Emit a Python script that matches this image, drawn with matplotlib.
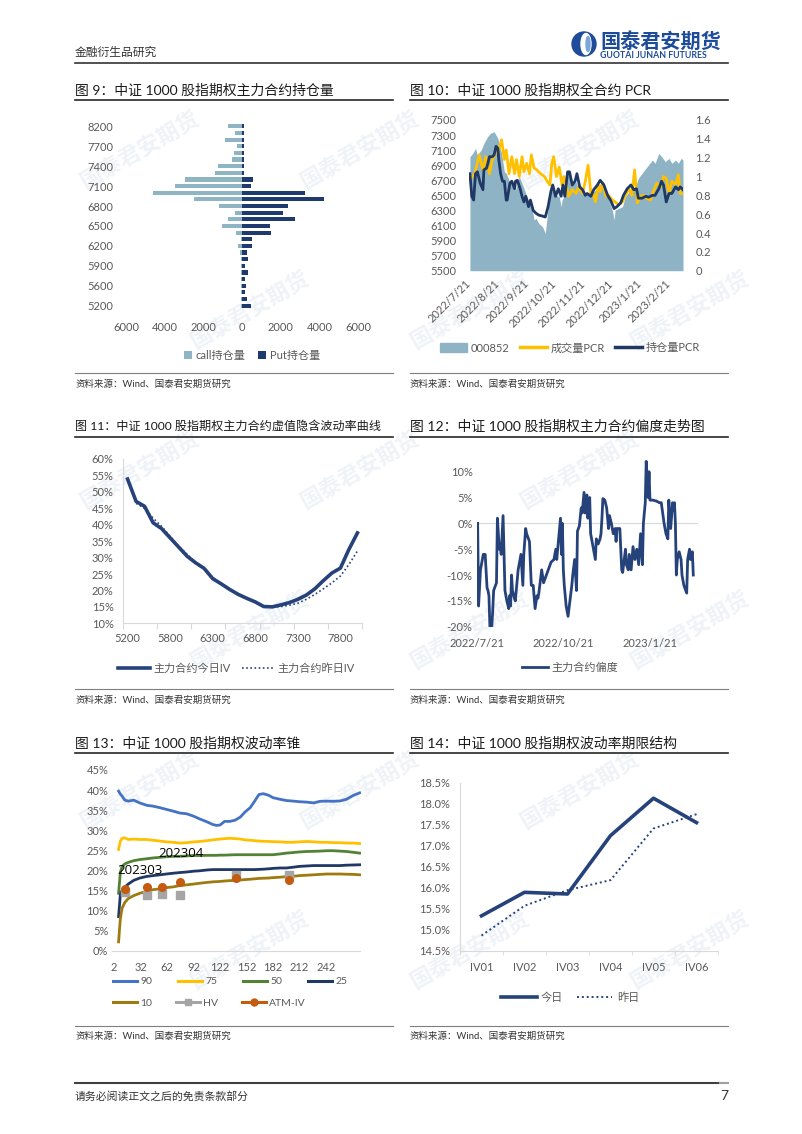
import numpy as np
import pandas as pd
import matplotlib
matplotlib.use("Agg")
import matplotlib.pyplot as plt
from matplotlib.patches import Circle, Ellipse, Patch
from matplotlib.lines import Line2D

plt.rcParams["font.family"] = ["Lato", "Noto Sans CJK SC", "DejaVu Sans"]

W, H = 802, 1134

# ---------------- data ----------------
# fig 9: open interest by strike (bottom -> top)
strikes = [5200, 5400, 5500, 5600, 5700, 5800, 5900, 6000, 6100, 6200,
           6300, 6400, 6500, 6600, 6700, 6800, 6900, 7000, 7100, 7200,
           7300, 7400, 7500, 7600, 7700, 7800, 8000, 8200]
call_oi = [70, 50, 50, 50, 50, 70, 70, 70, 100, 230,
           70, 300, 1010, 710, 380, 1200, 2470, 4590, 3480, 2960,
           1390, 1220, 540, 400, 260, 870, 350, 750]
put_oi = [470, 280, 140, 190, 170, 300, 170, 330, 260, 520,
          520, 1510, 1430, 2730, 2120, 2370, 4260, 3270, 490, 570,
          100, 100, 100, 100, 100, 100, 100, 100]

# fig 10: index level and PCRs (days after 2022-07-22)
index_days = [0, 3, 6, 8, 12, 15, 19, 22, 26, 28,
              30, 32, 34, 37, 39, 42, 46, 49, 53, 56,
              60, 64, 67, 69, 71, 74, 78, 81, 83, 86,
              89, 92, 96, 98, 99, 101, 104, 106, 110, 114,
              117, 121, 124, 128, 131, 135, 139, 142, 146, 149,
              153, 155, 156, 160, 164, 167, 171, 174, 178, 181,
              185, 189, 192, 196, 199, 203, 206, 210, 214, 217,
              221, 224, 227, 229]
index_vals = [7013, 7057, 7124, 7035, 7100, 7190, 7279, 7323, 7345, 7300,
              7257, 7146, 7057, 6814, 6792, 6703, 6615, 6570, 6748, 6660,
              6527, 6394, 6305, 6173, 6195, 6128, 6084, 5996, 6217, 6527,
              6570, 6504, 6482, 6350, 6438, 6482, 6748, 6770, 6637, 6681,
              6570, 6527, 6527, 6504, 6527, 6570, 6637, 6681, 6570, 6438,
              6305, 6173, 6305, 6327, 6350, 6482, 6548, 6593, 6615, 6726,
              6792, 6858, 6903, 6969, 6925, 7057, 7013, 6947, 6991, 6925,
              6969, 6925, 6991, 6969]
pcr_vol_days = [0, 5, 10, 14, 17, 21, 24, 28, 31, 34,
                37, 39, 42, 45, 48, 50, 53, 56, 58, 61,
                64, 66, 69, 72, 76, 80, 83, 86, 88, 90,
                93, 96, 99, 101, 104, 106, 110, 114, 117, 121,
                124, 127, 130, 132, 135, 138, 140, 143, 146, 149,
                153, 156, 160, 164, 167, 171, 174, 177, 180, 183,
                187, 190, 194, 197, 201, 205, 208, 211, 214, 217,
                221, 224, 226, 229]
pcr_vol = [0.98, 1.02, 1.23, 1.07, 1.21, 1.03, 1.18, 1.25, 1.28, 1.39,
           1.18, 1.28, 1.03, 1.21, 1.03, 1.18, 1.00, 1.21, 1.05, 1.14,
           1.03, 1.23, 1.09, 1.07, 1.03, 1.00, 0.95, 0.91, 1.14, 1.21,
           1.00, 1.10, 0.91, 1.00, 0.89, 0.79, 0.86, 0.82, 0.89, 0.82,
           0.95, 1.12, 0.82, 0.84, 0.73, 0.91, 0.84, 0.93, 0.79, 0.80,
           0.75, 0.73, 0.70, 0.73, 0.80, 0.87, 0.80, 1.07, 0.72, 0.79,
           0.80, 0.77, 0.75, 0.84, 0.93, 0.89, 1.00, 0.98, 0.82, 0.95,
           0.91, 1.02, 0.82, 0.82]
pcr_oi_days = [0, 2, 4, 6, 8, 11, 14, 15, 18, 21,
               24, 26, 28, 30, 31, 33, 35, 37, 39, 40,
               43, 45, 48, 49, 51, 54, 56, 58, 60, 63,
               65, 68, 71, 74, 78, 81, 84, 87, 89, 92,
               95, 98, 100, 102, 105, 107, 110, 113, 115, 118,
               121, 124, 126, 130, 133, 137, 140, 144, 148, 151,
               155, 158, 162, 165, 169, 173, 176, 179, 181, 185,
               189, 192, 196, 199, 203, 206, 208, 211, 214, 217,
               221, 224, 226, 229]
pcr_oi = [1.03, 0.79, 0.75, 1.03, 1.05, 0.93, 0.86, 1.07, 1.09, 1.21,
          1.21, 1.23, 1.32, 1.30, 1.18, 1.03, 0.95, 0.95, 0.75, 0.75,
          0.93, 0.95, 0.87, 0.95, 0.96, 0.87, 0.79, 0.73, 0.79, 0.68,
          0.75, 0.64, 0.61, 0.59, 0.58, 0.57, 0.68, 0.84, 0.91, 0.79,
          0.87, 0.79, 0.91, 0.79, 1.05, 1.05, 0.91, 0.95, 1.03, 0.89,
          0.86, 0.80, 0.82, 0.79, 0.86, 0.91, 0.96, 0.91, 0.80, 0.75,
          0.66, 0.68, 0.72, 0.80, 0.87, 0.91, 0.86, 0.87, 0.77, 0.77,
          0.79, 0.78, 0.80, 0.80, 0.87, 0.95, 0.91, 0.73, 0.82, 0.82,
          0.89, 0.86, 0.89, 0.86]
pcr_tick_dates = ["2022-07-21", "2022-08-21", "2022-09-21", "2022-10-21",
                  "2022-11-21", "2022-12-21", "2023-01-21", "2023-02-21"]
pcr_tick_labels = ["2022/7/21", "2022/8/21", "2022/9/21", "2022/10/21",
                   "2022/11/21", "2022/12/21", "2023/1/21", "2023/2/21"]

# fig 11: smile (same strike list as fig 9), %
iv_today = [53.9, 47.1, 45.6, 40.6, 38.8, 36.0, 33.2, 30.4, 28.4, 26.7,
            23.6, 22.0, 20.3, 18.8, 17.6, 16.5, 15.1, 15.0, 15.6, 16.3,
            17.3, 18.6, 20.5, 23.0, 25.3, 26.8, 32.5, 37.5]
iv_yesterday = [np.nan, 46.5, 45.0, 42.0, 39.5, 36.5, 33.5, 31.0, 28.5, 26.5,
                24.0, 22.0, 20.3, 18.8, 17.6, 16.4, 15.1, 14.9, 15.1, 15.5,
                16.1, 17.3, 18.8, 20.5, 22.3, 24.4, 27.9, 32.0]

# fig 12: skew, %
skew_days = [0, 1, 3, 5, 6, 8, 10, 11, 12, 13,
             15, 16, 17, 18, 19, 20, 21, 23, 24, 25,
             27, 29, 31, 33, 34, 35, 36, 37, 39, 40,
             41, 43, 45, 46, 48, 49, 51, 52, 54, 55,
             57, 59, 61, 63, 64, 65, 68, 70, 71, 75,
             78, 81, 83, 84, 86, 88, 89, 90, 91, 92,
             93, 94, 96, 98, 100, 101, 103, 105, 106, 108,
             110, 111, 113, 114, 116, 117, 119, 120, 122, 123,
             125, 126, 128, 130, 131, 132, 133, 135, 137, 139,
             140, 142, 144, 146, 147, 148, 151, 153, 154, 157,
             158, 160, 161, 163, 165, 167, 169, 171, 173, 175,
             176, 178, 179, 181, 182, 183, 186, 190, 193, 195,
             198, 200, 202, 203, 205, 207, 208, 209, 210, 211,
             212, 214, 216, 217, 219, 222, 223, 225, 226, 228,
             229]
skew_vals = [0, -16, -9, -7, -6, -6, -12.5, -13, -14, -20,
             -20, -17, -13, -12.5, -12, -11.5, 1, -5, -4, -6,
             1.5, -13, -15, -16.5, -14, -16, -10, -13, -14.5, -15,
             -13, -9, -7, -6, -12, -6, -1, -2, -3, -3.5,
             -12, -12, -16.5, -14, -14.5, -13.5, -9, -11.5, -11, -9,
             -7.5, -7, -5, -7, -3, 1, -6, 0, -9, -12,
             -14, -16, -18, -15, -12, -10, -7, -13, -1.5, -0.5,
             3, 2, 6, 2, 5.5, 1, 5, -2, -4, -5,
             -7, -3, -4, -3, -2, 1, 4.8, 4.5, 3, -1,
             1.5, 0, -2, -1, -3.5, -1, -1, -9, -9.5, -5,
             -8, -9, -6, -9, -4.5, -7, -5, -8, -2, -8,
             0, 4, 12, 5, 10, 4.5, 4.5, 4.3, 4, 4,
             0, -2, -3, 4.5, -1, 4, 2.5, 4, 0, -10,
             -7, -5.5, -7, -10, -12, -13.5, -7, -5, -7, -5.5,
             -10]
skew_tick_dates = ["2022-07-21", "2022-10-21", "2023-01-21"]
skew_tick_labels = ["2022/7/21", "2022/10/21", "2023/1/21"]

# fig 13: volatility cone, %
cone_days = [7, 9, 11, 14, 18, 24, 31, 39, 46, 54,
             61, 69, 76, 84, 92, 99, 107, 114, 118, 122,
             127, 133, 139, 145, 150, 156, 161, 166, 171, 177,
             182, 190, 197, 205, 212, 220, 228, 235, 243, 250,
             258, 265, 273, 280]
cone_90 = [39.75, 39.0, 38.5, 37.5, 37.25, 37.5, 36.8, 36.2, 36.0, 35.6,
           35.2, 34.75, 34.3, 34.1, 33.5, 32.8, 32.1, 31.4, 31.2, 31.3,
           32.2, 32.2, 32.5, 33.3, 34.5, 35.6, 37.2, 38.9, 39.1, 38.7,
           38.1, 37.7, 37.4, 37.25, 37.1, 37.0, 36.8, 37.2, 37.25, 37.2,
           37.3, 37.7, 38.7, 39.3]
cone_75 = [25.2, 27.3, 28.0, 28.1, 27.7, 27.8, 27.7, 27.7, 27.5, 27.3,
           27.1, 27.0, 26.8, 26.9, 27.1, 27.2, 27.4, 27.6, 27.7, 27.8,
           27.9, 28.0, 27.9, 27.8, 27.6, 27.5, 27.4, 27.3, 27.25, 27.2,
           27.15, 27.1, 27.0, 27.0, 27.1, 27.2, 27.1, 27.0, 27.0, 26.9,
           26.9, 26.8, 26.8, 26.7]
cone_50 = [14.3, 19.5, 21.0, 21.6, 22.0, 22.4, 22.7, 22.9, 23.1, 23.25,
           23.4, 23.5, 23.5, 23.6, 23.7, 23.7, 23.75, 23.75, 23.75, 23.8,
           23.8, 23.85, 23.9, 23.9, 23.9, 23.9, 23.9, 23.9, 23.9, 23.9,
           23.9, 24.1, 24.3, 24.45, 24.6, 24.7, 24.75, 24.8, 24.9, 24.9,
           24.8, 24.7, 24.5, 24.3]
cone_25 = [8.5, 14.0, 15.0, 15.8, 16.6, 17.5, 18.1, 18.5, 18.7, 18.9,
           19.1, 19.3, 19.45, 19.6, 19.8, 19.9, 20.1, 20.2, 20.2, 20.2,
           20.2, 20.2, 20.2, 20.2, 20.2, 20.2, 20.2, 20.25, 20.3, 20.4,
           20.5, 20.6, 20.6, 20.8, 21.0, 21.1, 21.2, 21.2, 21.2, 21.2,
           21.2, 21.3, 21.35, 21.4]
cone_10 = [2.2, 8.0, 10.6, 12.0, 13.0, 13.7, 14.3, 14.8, 15.2, 15.4,
           15.7, 15.9, 16.2, 16.4, 16.6, 16.8, 17.0, 17.15, 17.2, 17.25,
           17.35, 17.45, 17.5, 17.6, 17.7, 17.8, 17.9, 18.0, 18.05, 18.1,
           18.2, 18.3, 18.45, 18.55, 18.7, 18.8, 18.9, 19.0, 19.1, 19.1,
           19.1, 19.05, 19.0, 18.9]
contract_days = [14, 39, 56, 76, 140, 200]
hv_vals = [14.5, 13.75, 14.2, 13.9, 18.9, 18.9]
atm_iv_vals = [15.3, 15.8, 15.8, 17.1, 18.1, 17.5]
cone_ticks = [2, 32, 62, 92, 122, 152, 182, 212, 242]

# fig 14: term structure, %
term_labels = ["IV01", "IV02", "IV03", "IV04", "IV05", "IV06"]
term_today = [15.33, 15.89, 15.85, 17.24, 18.13, 17.55]
term_yesterday = [14.86, 15.57, 15.94, 16.18, 17.41, 17.75]

# ---------------- style ----------------
C_CALL = "#8FB5C5"
C_PUT = "#1F3A6E"
C_AREA = "#8DB3C5"
C_YEL = "#FFC000"
C_NAVY = "#1F3864"
C_LINE = "#26427A"
C_TICK = "#595959"
C_AX = "#D9D9D9"
START = pd.Timestamp("2022-07-22")


def rect(x0, y0, x1, y1):
    return [x0 / W, 1 - y1 / H, (x1 - x0) / W, (y1 - y0) / H]


def to_dates(days):
    return (START + pd.to_timedelta(days, unit="D")).to_numpy()


def fig_xy(x, y):
    return (x / W, 1 - y / H)


def clean(ax, keep=()):
    for name, sp in ax.spines.items():
        sp.set_visible(name in keep)
        sp.set_color(C_AX)
    ax.patch.set_alpha(0)


fig = plt.figure(figsize=(W / 100, H / 100), dpi=100)

# page layer: watermark, header, titles, rules, sources, footer
page = fig.add_axes([0, 0, 1, 1])
page.set_xlim(0, W)
page.set_ylim(H, 0)
page.axis("off")

for row, wy in enumerate([150, 310, 470, 630, 790, 950]):
    off = 0 if row % 2 == 0 else 110
    for wx in [140, 360, 580]:
        page.text(wx + off, wy, "国泰君安期货", rotation=30, fontsize=16,
                  fontweight="bold", color="#EFF3F7", ha="center",
                  va="center", zorder=0)

page.text(75, 52, "金融衍生品研究", fontsize=8.5, color="#333333",
          va="center", family=["Noto Sans CJK SC"])
page.plot([75, 728], [63, 63], color="#333333", lw=1.2)
page.add_patch(Circle((584, 44), 12, color="#1E4C9A"))
page.add_patch(Ellipse((586, 44), 10, 21, color="white"))
page.add_patch(Ellipse((588, 44), 4, 15, color="#7AA7DA"))
page.text(600, 41, "国泰君安期货", fontsize=14.5, fontweight="bold",
          color="#1E4C9A", va="center", family=["Noto Sans CJK SC"])
page.text(600, 55, "GUOTAI JUNAN FUTURES", fontsize=6.3, fontweight="bold",
          color="#1E4C9A", va="center")

titles = [(75, 90, "图 9：中证 1000 股指期权主力合约持仓量", 10),
          (410, 90, "图 10：中证 1000 股指期权全合约 PCR", 10),
          (75, 426, "图 11：中证 1000 股指期权主力合约虚值隐含波动率曲线", 8.7),
          (410, 426, "图 12：中证 1000 股指期权主力合约偏度走势图", 10),
          (75, 743, "图 13：中证 1000 股指期权波动率锥", 10),
          (410, 743, "图 14：中证 1000 股指期权波动率期限结构", 10)]
for x, y, t, fs in titles:
    page.text(x, y, t, fontsize=fs, color="#1A1A1A", va="center")

for y_rule, y_src, y_title_rule in [(373, 384, 100), (689, 700, 437),
                                    (1026, 1036, 753)]:
    for x0, x1 in [(75, 393), (410, 728)]:
        page.plot([x0, x1], [y_title_rule, y_title_rule], color="#262626",
                  lw=1.2)
        page.plot([x0, x1], [y_rule, y_rule], color="#7F7F7F", lw=0.8)
        page.text(x0, y_src, "资料来源：Wind、国泰君安期货研究", fontsize=6.8,
                  color="#333333", va="center")

page.plot([75, 720], [1083, 1083], color="#404040", lw=1.5)
page.plot([720, 728], [1083, 1083], color="#A0A0A0", lw=1.5)
page.text(75, 1096, "请务必阅读正文之后的免责条款部分", fontsize=7.8,
          color="#333333", va="center")
page.text(728, 1096, "7", fontsize=10, color="#333333", va="center",
          ha="right")

# ---------------- fig 9 ----------------
ax9 = fig.add_axes(rect(126, 123, 358, 309))
ypos = np.arange(len(strikes))
ax9.barh(ypos, [-v for v in call_oi], height=0.62, color=C_CALL,
         label="call持仓量")
ax9.barh(ypos, put_oi, height=0.62, color=C_PUT, label="Put持仓量")
ax9.set_xlim(-6000, 6000)
ax9.set_ylim(-0.5, len(strikes) - 0.5)
ax9.set_yticks(ypos[::3])
ax9.set_yticklabels([str(strikes[i]) for i in ypos[::3]])
xt = list(range(-6000, 6001, 2000))
ax9.set_xticks(xt)
ax9.set_xticklabels([str(abs(v)) for v in xt])
ax9.tick_params(axis="y", length=0, pad=9, labelsize=8, labelcolor=C_TICK)
ax9.tick_params(axis="x", length=0, pad=9, labelsize=8, labelcolor=C_TICK)
clean(ax9)
ax9.legend(loc="center", bbox_to_anchor=fig_xy(252, 355),
           bbox_transform=fig.transFigure, ncol=2, frameon=False,
           fontsize=8, handlelength=0.7, handleheight=0.7,
           handletextpad=0.3, columnspacing=1.2, labelcolor=C_TICK)

# ---------------- fig 10 ----------------
ax10 = fig.add_axes(rect(469, 120, 683, 270.7))
ax10.fill_between(to_dates(index_days), 5500, index_vals, color=C_AREA, lw=0)
ax10.set_ylim(5500, 7500)
ax10.set_yticks(range(5500, 7501, 200))
ax10b = ax10.twinx()
ax10b.plot(to_dates(pcr_vol_days), pcr_vol, color=C_YEL, lw=2.0)
ax10b.plot(to_dates(pcr_oi_days), pcr_oi, color=C_NAVY, lw=2.0)
ax10b.set_ylim(0, 1.6)
rt = np.arange(0, 1.61, 0.2)
ax10b.set_yticks(rt)
ax10b.set_yticklabels([f"{v:g}" for v in np.round(rt, 1)])
ax10.set_xlim(np.datetime64("2022-07-21"), np.datetime64("2023-03-08"))
ax10.set_xticks(pd.to_datetime(pcr_tick_dates).to_numpy())
ax10.set_xticklabels(pcr_tick_labels)
plt.setp(ax10.get_xticklabels(), rotation=45, ha="right", va="center",
         rotation_mode="anchor")
ax10.tick_params(axis="y", length=0, pad=9, labelsize=8, labelcolor=C_TICK)
ax10b.tick_params(axis="y", length=0, pad=9, labelsize=8, labelcolor=C_TICK)
ax10.tick_params(axis="x", length=0, pad=8, labelsize=8, labelcolor=C_TICK)
clean(ax10)
clean(ax10b)
h10 = [Patch(color=C_AREA), Line2D([], [], color=C_YEL, lw=2.5),
       Line2D([], [], color=C_NAVY, lw=2.5)]
ax10b.legend(h10, ["000852", "成交量PCR", "持仓量PCR"], loc="center",
             bbox_to_anchor=fig_xy(570, 348), bbox_transform=fig.transFigure,
             ncol=3, frameon=False, fontsize=8, handlelength=2.4,
             handleheight=0.8, handletextpad=0.3, columnspacing=1.0,
             labelcolor=C_TICK)

# ---------------- fig 11 ----------------
ax11 = fig.add_axes(rect(123.3, 459, 361.7, 623.3))
xs = np.arange(len(strikes))
ax11.plot(xs, iv_today, color=C_LINE, lw=2.6, label="主力合约今日IV")
ax11.plot(xs, iv_yesterday, color=C_LINE, lw=1.2, ls=(0, (1, 1.5)),
          label="主力合约昨日IV")
ax11.set_xlim(-0.5, len(strikes) - 0.5)
ax11.set_ylim(10, 60)
yt = list(range(10, 61, 5))
ax11.set_yticks(yt)
ax11.set_yticklabels([f"{v}%" for v in yt])
ax11.set_xticks(np.arange(-0.5, len(strikes), 4))
ax11.set_xticklabels([])
ax11.set_xticks(xs[::5], minor=True)
ax11.set_xticklabels([str(strikes[i]) for i in xs[::5]], minor=True)
ax11.tick_params(axis="x", which="major", length=4, color=C_AX)
ax11.tick_params(axis="x", which="minor", length=0, pad=7, labelsize=8,
                 labelcolor=C_TICK)
ax11.tick_params(axis="y", length=0, pad=7, labelsize=8, labelcolor=C_TICK)
clean(ax11, keep=("left", "bottom"))
ax11.legend(loc="center", bbox_to_anchor=fig_xy(236, 668),
            bbox_transform=fig.transFigure, ncol=2, frameon=False,
            fontsize=8, handlelength=2.9, handletextpad=0.3,
            columnspacing=1.0, labelcolor=C_TICK)

# ---------------- fig 12 ----------------
ax12 = fig.add_axes(rect(476.7, 456.2, 698, 626.7))
ax12.axhline(0, color=C_AX, lw=0.8)
ax12.plot(to_dates(skew_days), skew_vals, color=C_LINE, lw=2.0,
          label="主力合约偏度")
ax12.set_xlim(np.datetime64("2022-07-21"), np.datetime64("2023-03-13"))
ax12.set_ylim(-20, 13)
yt = list(range(-20, 11, 5))
ax12.set_yticks(yt)
ax12.set_yticklabels([f"{v}%" for v in yt])
ax12.set_xticks(pd.to_datetime(skew_tick_dates).to_numpy())
ax12.set_xticklabels(skew_tick_labels)
ax12.tick_params(axis="y", length=0, pad=3, labelsize=8, labelcolor=C_TICK)
ax12.tick_params(axis="x", length=0, pad=8, labelsize=8, labelcolor=C_TICK)
clean(ax12)
ax12.legend(loc="center", bbox_to_anchor=fig_xy(570, 667),
            bbox_transform=fig.transFigure, frameon=False, fontsize=8,
            handlelength=2.3, handletextpad=0.3, labelcolor=C_TICK)

# ---------------- fig 13 ----------------
ax13 = fig.add_axes(rect(112.4, 770, 360.5, 950.7))
cone = [("90", cone_90, "#4472C4"), ("75", cone_75, "#FFC000"),
        ("50", cone_50, "#548235"), ("25", cone_25, "#203864"),
        ("10", cone_10, "#9E7B10")]
for lab, vals, col in cone:
    ax13.plot(cone_days, vals, color=col, lw=2.0, label=lab)
ax13.plot(contract_days, hv_vals, ls="none", marker="s", ms=6,
          color="#A5A5A5", label="HV")
ax13.plot(contract_days, atm_iv_vals, ls="none", marker="o", ms=5.5,
          color="#C55A11", label="ATM-IV")
ax13.text(5, 19.85, "202303", fontsize=9.5, color="black", va="center",
          family=["Open Sans"])
ax13.text(52, 24.1, "202304", fontsize=9.5, color="black", va="center",
          family=["Open Sans"])
ax13.set_xlim(0, 281)
ax13.set_ylim(0, 45)
yt = list(range(0, 46, 5))
ax13.set_yticks(yt)
ax13.set_yticklabels([f"{v}%" for v in yt])
ax13.set_xticks(cone_ticks)
ax13.tick_params(axis="y", length=0, pad=3, labelsize=8, labelcolor=C_TICK)
ax13.tick_params(axis="x", length=0, pad=8, labelsize=8, labelcolor=C_TICK)
clean(ax13, keep=("bottom",))
row1 = [Line2D([], [], color=c, lw=2.2) for _, _, c in cone[:4]]
leg1 = ax13.legend(row1, [n for n, _, _ in cone[:4]], loc="upper left",
                   bbox_to_anchor=fig_xy(108, 972),
                   bbox_transform=fig.transFigure, ncol=4, frameon=False,
                   fontsize=7.5, handlelength=2.3, handletextpad=0.3,
                   columnspacing=2.5, borderpad=0, labelcolor=C_TICK)
ax13.add_artist(leg1)
row2 = [Line2D([], [], color=cone[4][2], lw=2.2),
        Line2D([], [], color="#A5A5A5", lw=2.2, marker="s", ms=5),
        Line2D([], [], color="#C55A11", lw=2.2, marker="o", ms=5)]
ax13.legend(row2, ["10", "HV", "ATM-IV"], loc="upper left",
            bbox_to_anchor=fig_xy(108, 993), bbox_transform=fig.transFigure,
            ncol=3, frameon=False, fontsize=7.5, handlelength=2.3,
            handletextpad=0.3, columnspacing=2.3, borderpad=0,
            labelcolor=C_TICK)

# ---------------- fig 14 ----------------
ax14 = fig.add_axes(rect(460, 782.7, 718, 950.7))
xt14 = np.arange(len(term_labels))
ax14.plot(xt14, term_today, color=C_LINE, lw=2.6, label="今日")
ax14.plot(xt14, term_yesterday, color=C_LINE, lw=1.4, ls=(0, (1, 1.5)),
          label="昨日")
ax14.set_xlim(-0.5, len(term_labels) - 0.5)
ax14.set_ylim(14.5, 18.5)
yt = np.arange(14.5, 18.51, 0.5)
ax14.set_yticks(yt)
ax14.set_yticklabels([f"{v:.1f}%" for v in yt])
ax14.set_xticks(xt14)
ax14.set_xticklabels(term_labels)
ax14.set_xticks(np.arange(-0.5, len(term_labels), 1), minor=True)
ax14.tick_params(axis="x", which="minor", length=3, color=C_AX)
ax14.tick_params(axis="x", which="major", length=0, pad=8, labelsize=8,
                 labelcolor=C_TICK)
ax14.tick_params(axis="y", length=0, pad=7, labelsize=8, labelcolor=C_TICK)
clean(ax14, keep=("left", "bottom"))
ax14.legend(loc="center", bbox_to_anchor=fig_xy(570, 997),
            bbox_transform=fig.transFigure, ncol=2, frameon=False,
            fontsize=8, handlelength=3.2, handletextpad=0.4,
            columnspacing=1.2, labelcolor=C_TICK)

fig.savefig("out.png", dpi=100)
